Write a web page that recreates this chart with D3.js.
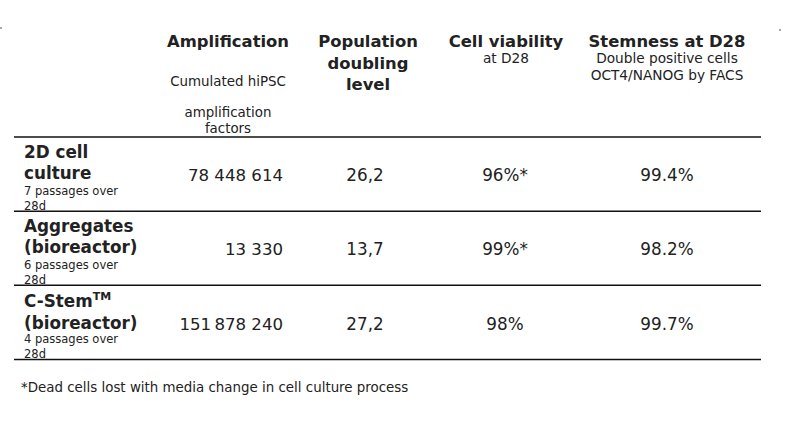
<!DOCTYPE html>
<html>
<head>
<meta charset="utf-8">
<script src="https://cdn.jsdelivr.net/npm/d3@7"></script>
<style>
  body { margin: 0; background: #fff; }
  text { font-family: "DejaVu Sans", Verdana, sans-serif; fill: #222; }
</style>
</head>
<body>
<div id="table"></div>
<script>
var width = 785, height = 427;

// table content
var columns = ["label", "amp", "pdl", "viab", "stem"];
var headTitles = [[], ["Amplification"], ["Population", "doubling", "level"], ["Cell viability"], ["Stemness at D28"]];
var headNotes = [[], ["Cumulated hiPSC", "", "amplification", "factors"], [], ["at D28"], ["Double positive cells", "OCT4/NANOG by FACS"]];
var rowNames = [["2D cell", "culture"], ["Aggregates", "(bioreactor)"], ["C-Stem|TM", "(bioreactor)"]];
var rowNotes = [["7 passages over", "28d"], ["6 passages over", "28d"], ["4 passages over", "28d"]];
var amplification = ["78 448 614", "13 330", "151\u2009878 240"];
var doubling = ["26,2", "13,7", "27,2"];
var viability = ["96%*", "99%*", "98%"];
var stemness = ["99.4%", "98.2%", "99.7%"];
var footnote = "*Dead cells lost with media change in cell culture process";

var svg = d3.select("#table")
  .append("svg")
    .attr("width", width)
    .attr("height", height);

// column centres (header) and value anchors
var x = d3.scaleOrdinal()
  .domain(columns)
  .range([24, 228, 368, 506, 667]);
var xv = d3.scaleOrdinal()
  .domain(columns)
  .range([24, 283, 365, 505, 667]);

// row boundaries
var y = d3.scaleLinear()
  .domain([0, rowNames.length])
  .range([137, 359.5]);

// header
columns.forEach(function(c, i) {
  var g = svg.append("g").attr("text-anchor", "middle");
  g.selectAll("text.title")
    .data(headTitles[i])
    .enter()
    .append("text")
      .attr("class", "title")
      .attr("x", x(c))
      .attr("y", function(d, j) { return 47 + j * 21.5; })
      .style("font-weight", "bold")
      .style("font-size", "16.4px")
      .text(function(d) { return d; });
  var big = c == "amp";
  g.selectAll("text.note")
    .data(headNotes[i])
    .enter()
    .append("text")
      .attr("class", "note")
      .attr("x", x(c))
      .attr("y", function(d, j) { return big ? 86 + j * 15.5 : 63 + j * 16.5; })
      .style("font-size", big ? "13.4px" : "13.7px")
      .text(function(d) { return d; });
});

// rules
svg.selectAll("line.rule")
  .data(d3.range(rowNames.length + 1))
  .enter()
  .append("line")
    .attr("class", "rule")
    .attr("x1", 14)
    .attr("x2", 761)
    .attr("y1", function(d) { return y(d); })
    .attr("y2", function(d) { return y(d); })
    .attr("stroke", "#111")
    .attr("stroke-width", 1.5);

// body rows
rowNames.forEach(function(names, i) {
  var top = y(i);
  var extra = names[0].indexOf("|") >= 0 ? 1 : 0;
  var g = svg.append("g");

  names.forEach(function(n, j) {
    var parts = n.split("|");
    var t = g.append("text")
      .attr("x", x("label"))
      .attr("y", top + 20.5 + extra + j * (21.5 + extra))
      .style("font-weight", "bold")
      .style("font-size", "16.8px")
      .text(parts[0]);
    if (parts[1]) {
      t.append("tspan")
        .attr("dy", -6.5)
        .style("font-size", "11px")
        .text(parts[1]);
    }
  });

  g.selectAll("text.rnote")
    .data(rowNotes[i])
    .enter()
    .append("text")
      .attr("class", "rnote")
      .attr("x", x("label"))
      .attr("y", function(d, j) { return top + 58 + j * 15; })
      .style("font-size", "11.5px")
      .text(function(d) { return d; });

  var vy = top + 44 + extra;
  g.append("text")
    .attr("x", xv("amp"))
    .attr("y", vy)
    .attr("text-anchor", "end")
    .style("font-size", "16.6px")
    .text(amplification[i]);
  [["pdl", doubling], ["viab", viability], ["stem", stemness]].forEach(function(p) {
    g.append("text")
      .attr("x", xv(p[0]))
      .attr("y", vy)
      .attr("text-anchor", "middle")
      .style("font-size", "16.8px")
      .text(p[1][i]);
  });
});

// footnote
svg.append("text")
  .attr("x", 21)
  .attr("y", 392)
  .style("font-size", "13.4px")
  .text(footnote);

// tiny edge marks
svg.selectAll("rect.mark")
  .data([[0, 27], [779, 29]])
  .enter()
  .append("rect")
    .attr("x", function(d) { return d[0]; })
    .attr("y", function(d) { return d[1]; })
    .attr("width", 2)
    .attr("height", 2)
    .attr("fill", "#aaa");
</script>
</body>
</html>
